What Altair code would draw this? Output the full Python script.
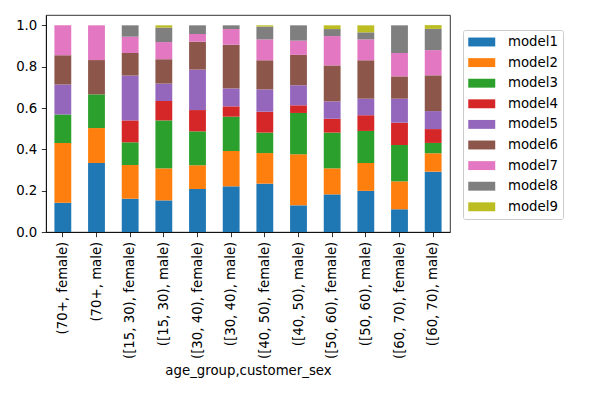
import altair as alt
import pandas as pd

categories = [
    "(70+, female)", "(70+, male)", "([15, 30), female)", "([15, 30), male)",
    "([30, 40), female)", "([30, 40), male)", "([40, 50), female)", "([40, 50), male)",
    "([50, 60), female)", "([50, 60), male)", "([60, 70), female)", "([60, 70), male)",
]
models = ["model1", "model2", "model3", "model4", "model5", "model6", "model7", "model8", "model9"]
colors = ["#1f77b4", "#ff7f0e", "#2ca02c", "#d62728", "#9467bd", "#8c564b", "#e377c2", "#7f7f7f", "#bcbd22"]

model1 = [0.142, 0.334, 0.161, 0.153, 0.208, 0.221, 0.234, 0.129, 0.182, 0.199, 0.110, 0.292]
model2 = [0.289, 0.169, 0.163, 0.155, 0.115, 0.171, 0.148, 0.247, 0.126, 0.135, 0.135, 0.089]
model3 = [0.138, 0.163, 0.110, 0.232, 0.164, 0.166, 0.099, 0.200, 0.173, 0.155, 0.176, 0.050]
model4 = [0.000, 0.000, 0.106, 0.094, 0.103, 0.050, 0.101, 0.037, 0.067, 0.076, 0.108, 0.067]
model5 = [0.145, 0.000, 0.217, 0.084, 0.196, 0.087, 0.108, 0.097, 0.084, 0.080, 0.116, 0.087]
model6 = [0.141, 0.166, 0.109, 0.118, 0.135, 0.211, 0.141, 0.147, 0.174, 0.186, 0.108, 0.173]
model7 = [0.145, 0.168, 0.079, 0.083, 0.037, 0.076, 0.101, 0.069, 0.142, 0.101, 0.113, 0.122]
model8 = [0.000, 0.000, 0.055, 0.070, 0.042, 0.018, 0.062, 0.074, 0.034, 0.034, 0.134, 0.103]
model9 = [0.000, 0.000, 0.000, 0.011, 0.000, 0.000, 0.006, 0.000, 0.018, 0.034, 0.000, 0.018]

series = [model1, model2, model3, model4, model5, model6, model7, model8, model9]
y_ticks = [0.0, 0.2, 0.4, 0.6, 0.8, 1.0]

rows = []
for mi, (name, vals) in enumerate(zip(models, series)):
    for cat, v in zip(categories, vals):
        rows.append({"cat": cat, "model": name, "value": v, "order": mi})
df = pd.DataFrame(rows)

FONT = "DejaVu Sans"
FS = 13.3

chart = alt.Chart(df).mark_bar().encode(
    x=alt.X("cat:N", sort=categories,
            scale=alt.Scale(paddingInner=0.5, paddingOuter=0.25),
            axis=alt.Axis(title="age_group,customer_sex", labelAngle=270,
                          labelAlign="right", labelBaseline="middle",
                          labelPadding=4.5, tickSize=4.7, titlePadding=5,
                          titleFontWeight="normal", titleFontSize=FS,
                          labelFontSize=FS, labelFont=FONT, titleFont=FONT,
                          labelColor="black", titleColor="black",
                          domainColor="black", tickColor="black",
                          domainWidth=0.8, tickWidth=0.8)),
    y=alt.Y("value:Q", stack="zero",
            scale=alt.Scale(domain=[0, 1.05], nice=False, zero=True),
            axis=alt.Axis(title=None, values=y_ticks, format=".1f", grid=False,
                          tickSize=4.7, labelPadding=4.5, labelFontSize=FS,
                          labelFont=FONT, labelColor="black",
                          domainColor="black", tickColor="black",
                          domainWidth=0.8, tickWidth=0.8)),
    color=alt.Color("model:N", sort=models,
                    scale=alt.Scale(domain=models, range=colors),
                    legend=alt.Legend(title=None, orient="none", legendX=417, legendY=15,
                                      symbolType="M-1,-0.66 L3,-0.66 L3,0.66 L-1,0.66 Z",
                                      symbolSize=182, symbolStrokeWidth=0,
                                      labelOffset=26, rowPadding=6.6,
                                      labelFontSize=FS, labelFont=FONT, labelColor="black",
                                      padding=5, strokeColor="#cccccc", fillColor="white",
                                      cornerRadius=2)),
    order=alt.Order("order:Q", sort="ascending"),
).properties(
    width=404, height=217,
    autosize=alt.AutoSizeParams(type="none"),
    padding={"left": 38, "top": 7, "right": 130, "bottom": 155},
).configure_view(
    stroke="black", strokeWidth=0.8
)

chart.save("out.html", embed_options={"renderer": "svg", "actions": False})
